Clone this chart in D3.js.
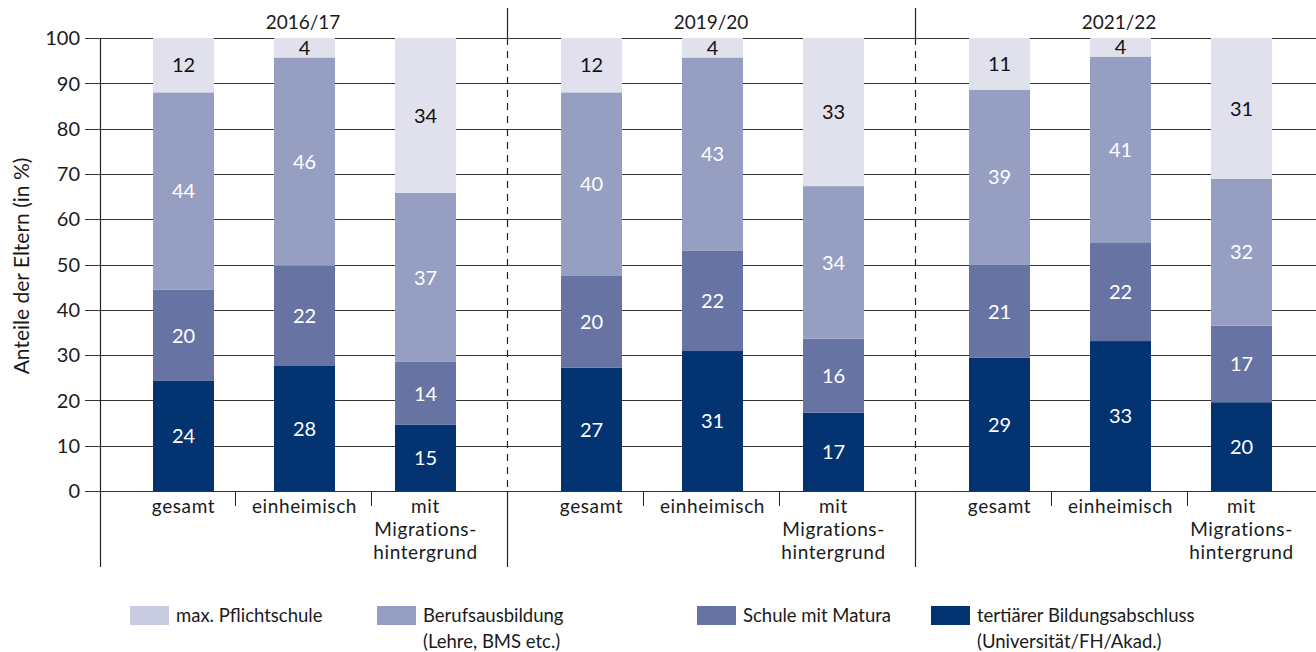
<!DOCTYPE html>
<html>
<head>
    <script type="text/javascript" src="https://d3js.org/d3.v7.min.js"></script>
    <style>
        body { margin: 0; background: #fff; }
        text { font-family: Lato, "Open Sans", sans-serif; fill: #1a1a1a; }
    </style>
</head>
<body>
    <svg width="1316" height="652"></svg>
    <script>
        // school years (panels) and parent groups (bars per panel)
        const years = ["2016/17", "2019/20", "2021/22"];
        const groups = ["gesamt", "einheimisch", "mit Migrationshintergrund"];
        const groupLines = {
            "gesamt": ["gesamt"],
            "einheimisch": ["einheimisch"],
            "mit Migrationshintergrund": ["mit", "Migrations-", "hintergrund"]
        };

        // shares in %, one value per year x group
        const tertiaer = [24.3, 27.6, 14.6, 27.2, 30.9, 17.3, 29.4, 33.1, 19.6];
        const matura = [20.1, 22.1, 13.9, 20.4, 22.1, 16.3, 20.5, 21.8, 16.9];
        const beruf = [43.6, 46.0, 37.3, 40.4, 42.7, 33.7, 38.7, 41.0, 32.4];
        const pflicht = [12.0, 4.3, 34.2, 12.0, 4.3, 32.7, 11.4, 4.1, 31.1];

        const yTicks = [0, 10, 20, 30, 40, 50, 60, 70, 80, 90, 100];

        const seriesKeys = ["tertiaer", "matura", "beruf", "pflicht"];
        const seriesNames = {
            pflicht: ["max. Pflichtschule"],
            beruf: ["Berufsausbildung", "(Lehre, BMS etc.)"],
            matura: ["Schule mit Matura"],
            tertiaer: ["tertiärer Bildungsabschluss", "(Universität/FH/Akad.)"]
        };
        const colors = {
            tertiaer: "#033371",
            matura: "#6673a3",
            beruf: "#969ec2",
            pflicht: "#e1e1ee"
        };
        const legendColors = {
            tertiaer: "#033371",
            matura: "#6673a3",
            beruf: "#969ec2",
            pflicht: "#c9cbe1"
        };

        // build rows for the stack
        const rows = [];
        years.forEach((yr, i) => {
            groups.forEach((g, j) => {
                const k = i * groups.length + j;
                rows.push({
                    year: yr, group: g,
                    tertiaer: tertiaer[k], matura: matura[k],
                    beruf: beruf[k], pflicht: pflicht[k]
                });
            });
        });

        const svg = d3.select("svg");
        const plotTop = 38, plotBottom = 491;

        const y = d3.scaleLinear().domain([0, 100]).range([plotBottom, plotTop]);
        const xPanel = d3.scaleBand().domain(years).range([99, 1323]);
        const pw = xPanel.bandwidth();
        const xGroup = d3.scaleBand().domain(groups)
            .range([54, 54 + 3 * 121 - 60])
            .paddingInner(60 / 121).paddingOuter(0);

        const crisp = v => Math.round(v) + 0.5;

        // horizontal gridlines
        svg.append("g").selectAll("line")
            .data(yTicks).enter().append("line")
            .attr("x1", 85).attr("x2", 1316)
            .attr("y1", d => crisp(y(d))).attr("y2", d => crisp(y(d)))
            .attr("stroke", "#333").attr("stroke-width", 1);

        // y axis labels
        svg.append("g").selectAll("text")
            .data(yTicks).enter().append("text")
            .attr("x", 80).attr("y", d => y(d))
            .attr("dy", "0.36em")
            .attr("text-anchor", "end")
            .style("font-size", "20px")
            .text(d => d);

        svg.append("line")
            .attr("x1", 100.5).attr("x2", 100.5)
            .attr("y1", plotTop).attr("y2", 567)
            .attr("stroke", "#222").attr("stroke-width", 1.2);

        svg.append("text")
            .attr("transform", "translate(29,266) rotate(-90)")
            .attr("text-anchor", "middle")
            .style("font-size", "21px")
            .text("Anteile der Eltern (in %)");

        // stacked bars
        const stack = d3.stack().keys(seriesKeys)(rows);
        const barX = d => xPanel(d.data.year) + xGroup(d.data.group);

        const layers = svg.append("g").selectAll("g")
            .data(stack).enter().append("g")
            .attr("fill", d => colors[d.key]);

        layers.selectAll("rect")
            .data(d => d).enter().append("rect")
            .attr("x", barX)
            .attr("width", xGroup.bandwidth())
            .attr("y", d => y(d[1]))
            .attr("height", d => y(d[0]) - y(d[1]));

        // value labels
        layers.each(function(layer) {
            d3.select(this).selectAll("text")
                .data(layer).enter().append("text")
                .attr("x", d => barX(d) + xGroup.bandwidth() / 2)
                .attr("y", d => (y(d[0]) + y(d[1])) / 2)
                .attr("dy", "0.36em")
                .attr("text-anchor", "middle")
                .style("font-size", "20px")
                .style("fill", layer.key === "pflicht" ? "#111" : "#fff")
                .text(d => Math.round(d[1] - d[0]));
        });

        // panel dividers: solid above and below, dashed within the plot
        const dividers = years.slice(1).map(yr => crisp(xPanel(yr)));
        const divG = svg.append("g").attr("stroke", "#222").attr("stroke-width", 1.2);
        dividers.forEach(x => {
            divG.append("line").attr("x1", x).attr("x2", x).attr("y1", 8).attr("y2", plotTop);
            divG.append("line").attr("x1", x).attr("x2", x).attr("y1", plotTop).attr("y2", plotBottom)
                .attr("stroke-dasharray", "7,6");
            divG.append("line").attr("x1", x).attr("x2", x).attr("y1", plotBottom).attr("y2", 567);
        });

        // year headers
        svg.append("g").selectAll("text")
            .data(years).enter().append("text")
            .attr("x", d => xPanel(d) + pw / 2)
            .attr("y", 22)
            .attr("dy", "0.36em")
            .attr("text-anchor", "middle")
            .style("font-size", "19px")
            .text(d => d);

        // category ticks and labels
        years.forEach(yr => {
            const x0 = xPanel(yr);
            [1, 2].forEach(t => {
                const xt = crisp(x0 + pw * t / 3);
                svg.append("line")
                    .attr("x1", xt).attr("x2", xt)
                    .attr("y1", plotBottom).attr("y2", 506)
                    .attr("stroke", "#222");
            });
            groups.forEach(g => {
                const cx = x0 + xGroup(g) + xGroup.bandwidth() / 2;
                const t = svg.append("text")
                    .attr("x", cx)
                    .attr("text-anchor", "middle")
                    .style("font-size", "19px")
                    .style("letter-spacing", "0.6px");
                groupLines[g].forEach((line, i) => {
                    t.append("tspan")
                        .attr("x", cx)
                        .attr("y", 507 + i * 22.8)
                        .attr("dy", "0.33em")
                        .text(line);
                });
            });
        });

        // legend
        const legendX = { pflicht: 130, beruf: 377, matura: 697, tertiaer: 931 };
        const legendOrder = ["pflicht", "beruf", "matura", "tertiaer"];
        const leg = svg.append("g").selectAll("g")
            .data(legendOrder).enter().append("g")
            .attr("transform", d => `translate(${legendX[d]},606)`);
        leg.append("rect")
            .attr("width", 39).attr("height", 19)
            .attr("fill", d => legendColors[d]);
        leg.append("text")
            .attr("x", 45)
            .style("font-size", "18.5px")
            .each(function(d) {
                d3.select(this).selectAll("tspan")
                    .data(seriesNames[d]).enter().append("tspan")
                    .attr("x", 46)
                    .attr("y", (s, i) => 10 + i * 26)
                    .attr("dy", "0.35em")
                    .text(s => s);
            });
    </script>
</body>
</html>
